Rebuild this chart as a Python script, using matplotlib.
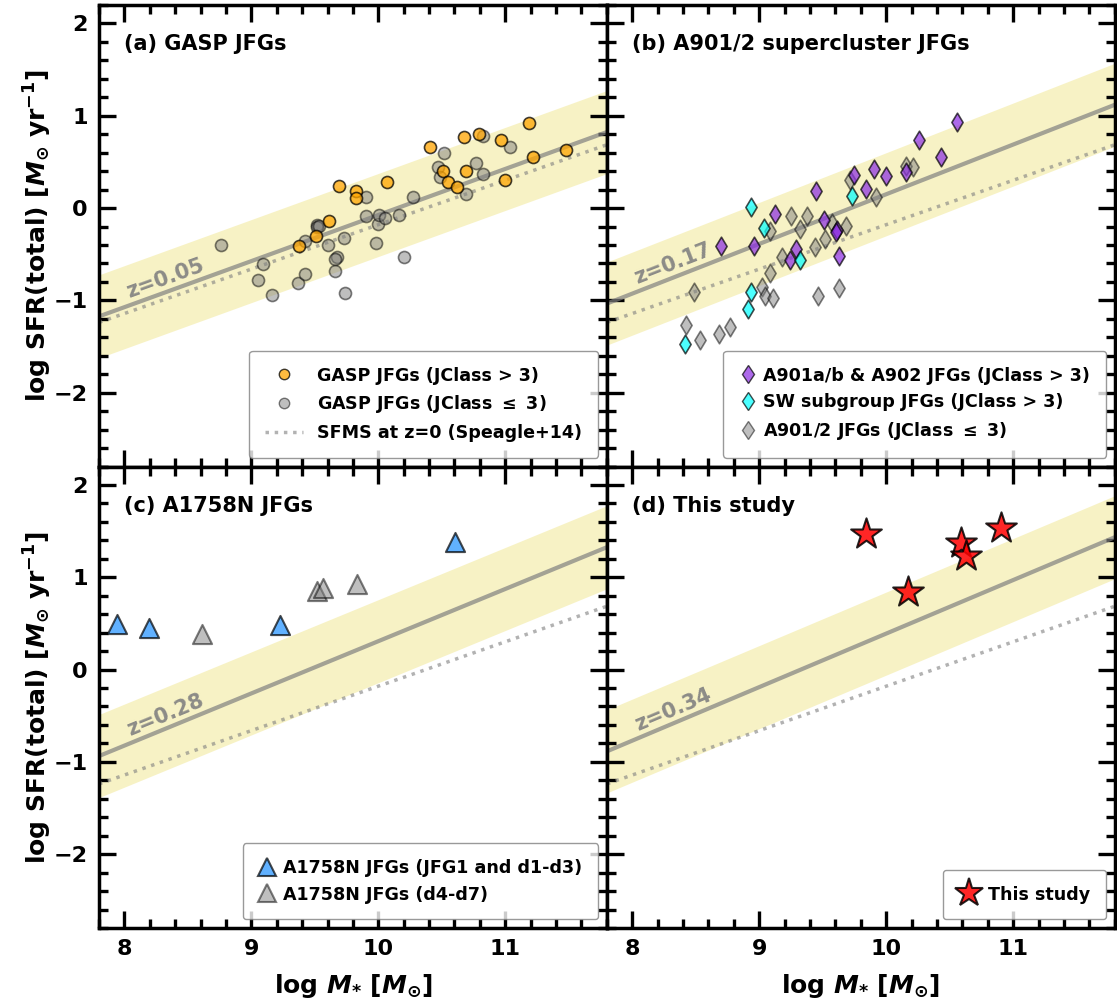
import numpy as np
import matplotlib
matplotlib.use("Agg")
import matplotlib.pyplot as plt
from matplotlib.ticker import MultipleLocator
from matplotlib.lines import Line2D

# GASP jellyfish galaxies (panel a)
gasp_hi_m = [9.375, 9.506, 9.611, 9.692, 9.824, 9.824, 10.065, 10.406, 10.506, 10.545,
             10.616, 10.677, 10.687, 10.795, 10.968, 10.997, 11.188, 11.217, 11.48]
gasp_hi_sfr = [-0.409, -0.307, -0.137, 0.240, 0.189, 0.106, 0.283, 0.657, 0.403, 0.287,
               0.233, 0.765, 0.403, 0.801, 0.743, 0.301, 0.925, 0.555, 0.627]
gasp_lo_m = [8.763, 9.091, 9.054, 9.162, 9.364, 9.424, 9.424, 9.519, 9.519, 9.53,
             9.603, 9.727, 9.672, 9.656, 9.656, 9.735, 9.905, 9.905, 9.994, 10.007,
             10.052, 9.984, 10.165, 10.275, 10.204, 10.467, 10.485, 10.517, 10.687, 10.766,
             10.826, 10.821, 11.039]
gasp_lo_sfr = [-0.401, -0.601, -0.782, -0.941, -0.807, -0.713, -0.362, -0.180, -0.21, -0.19,
               -0.401, -0.322, -0.528, -0.557, -0.680, -0.916, 0.124, -0.086, -0.173, -0.072,
               -0.108, -0.383, -0.079, 0.124, -0.528, 0.442, 0.334, 0.602, 0.150, 0.488,
               0.371, 0.779, 0.657]

# A901/2 supercluster (panel b)
a901_m = [8.698, 8.955, 9.128, 9.288, 9.241, 9.448, 9.509, 9.609, 9.603, 9.629,
          9.747, 9.837, 9.900, 9.999, 10.152, 10.259, 10.430, 10.561]
a901_sfr = [-0.409, -0.409, -0.061, -0.438, -0.561, 0.189, -0.126, -0.238, -0.264, -0.517,
            0.363, 0.204, 0.421, 0.345, 0.396, 0.743, 0.551, 0.928]
sw_m = [8.939, 9.036, 9.320, 9.729, 8.939, 8.908, 8.417]
sw_sfr = [0.008, -0.220, -0.564, 0.131, -0.909, -1.097, -1.471]
a901_lo_m = [8.485, 8.425, 8.535, 8.687, 8.766, 9.023, 9.049, 9.107, 9.086, 9.086,
             9.183, 9.249, 9.320, 9.377, 9.438, 9.519, 9.574, 9.687, 9.459, 9.629,
             9.716, 9.918, 10.157, 10.212]
a901_lo_sfr = [-0.909, -1.271, -1.434, -1.369, -1.286, -0.854, -0.952, -0.974, -0.699, -0.246,
               -0.535, -0.090, -0.227, -0.086, -0.427, -0.336, -0.162, -0.199, -0.952, -0.861,
               0.305, 0.124, 0.461, 0.450]

# A1758N (panel c)
a1758_hi_m = [7.942, 8.194, 9.225, 10.603]
a1758_hi_sfr = [0.49, 0.455, 0.48, 1.38]
a1758_lo_m = [8.609, 9.514, 9.561, 9.829]
a1758_lo_sfr = [0.39, 0.853, 0.889, 0.932]

# this study (panel d)
this_m = [9.837, 10.587, 10.632, 10.902, 10.173]
this_sfr = [1.471, 1.370, 1.230, 1.532, 0.842]

# star-forming main sequence lines (Speagle+14) per panel
panel_z = ["0.05", "0.17", "0.28", "0.34"]
ms_slope = [0.4994, 0.5384, 0.5657, 0.58]
ms_icpt = [-5.069, -5.234, -5.3495, -5.41]
z0_slope = 0.4812
z0_icpt = -4.992
ms_width = 0.45

titles = ["(a) GASP JFGs", "(b) A901/2 supercluster JFGs",
          "(c) A1758N JFGs", "(d) This study"]

XLIM = (7.8, 11.8)
YLIM = (-2.8, 2.2)

plt.rcParams["font.family"] = "DejaVu Sans"
plt.rcParams["font.weight"] = "bold"
plt.rcParams["axes.labelweight"] = "bold"
plt.rcParams["mathtext.fontset"] = "custom"
plt.rcParams["mathtext.rm"] = "DejaVu Sans:bold"
plt.rcParams["mathtext.bf"] = "DejaVu Sans:bold"
plt.rcParams["mathtext.it"] = "DejaVu Sans:italic:bold"

fig, axes = plt.subplots(2, 2, figsize=(11.17, 10.05), dpi=100, sharex=True, sharey=True)
fig.subplots_adjust(left=0.0886, right=0.998, top=0.995, bottom=0.0766, wspace=0, hspace=0)
axs = axes.ravel()

xx = np.array(XLIM)
for i, ax in enumerate(axs):
    ax.set_xlim(*XLIM)
    ax.set_ylim(*YLIM)
    ms = ms_slope[i] * xx + ms_icpt[i]
    ax.fill_between(xx, ms - ms_width, ms + ms_width, color="khaki", alpha=0.5, lw=0, zorder=1)
    ax.plot(xx, ms, color="gray", lw=3, alpha=0.7, zorder=2)
    ax.plot(xx, z0_slope * xx + z0_icpt, color="gray", lw=2.5, ls=":", alpha=0.6, zorder=2)

    # label along the main sequence line
    xt = 8.32
    yt = ms_slope[i] * xt + ms_icpt[i] + 0.15
    ang = np.degrees(np.arctan(ms_slope[i] * 92.0 / 127.0))
    ax.text(xt, yt, "z=" + panel_z[i], color="gray", fontsize=15, fontweight="bold",
            rotation=ang, rotation_mode="anchor", ha="center", va="center", alpha=0.9, zorder=3)

    ax.text(0.05, 0.915, titles[i], transform=ax.transAxes, fontsize=15,
            fontweight="bold", va="center", ha="left", zorder=6)

    ax.xaxis.set_major_locator(MultipleLocator(1))
    ax.xaxis.set_minor_locator(MultipleLocator(0.2))
    ax.yaxis.set_major_locator(MultipleLocator(1))
    ax.yaxis.set_minor_locator(MultipleLocator(0.2))
    ax.tick_params(which="both", direction="in", top=True, right=True, width=2.4,
                   labelsize=16, pad=8)
    ax.tick_params(which="major", length=12)
    ax.tick_params(which="minor", length=6.5)
    for sp in ax.spines.values():
        sp.set_linewidth(2.5)
    for lab in ax.get_xticklabels() + ax.get_yticklabels():
        lab.set_fontweight("bold")

leg_font = {"weight": "bold", "size": 12.6}

# (a)
ax = axs[0]
ax.scatter(gasp_hi_m, gasp_hi_sfr, s=75, color="orange", edgecolor="k", lw=1.2, alpha=0.75, zorder=5)
ax.scatter(gasp_lo_m, gasp_lo_sfr, s=75, color="gray", edgecolor="k", lw=1.2, alpha=0.5, zorder=4)
h = [Line2D([], [], ls="none", marker="o", ms=7.5, mfc="orange", mec="k", alpha=0.75),
     Line2D([], [], ls="none", marker="o", ms=7.5, mfc="gray", mec="k", alpha=0.5),
     Line2D([], [], color="gray", lw=2.5, ls=":", alpha=0.6)]
ax.legend(h, ["GASP JFGs (JClass > 3)", "GASP JFGs (JClass $\\leq$ 3)",
              "SFMS at z=0 (Speagle+14)"], loc="lower right", prop=leg_font,
          handlelength=2.2, borderpad=0.9, edgecolor="gray")

# (b)
ax = axs[1]
ax.scatter(a901_lo_m, a901_lo_sfr, s=90, marker="d", color="gray", edgecolor="k", lw=1.2, alpha=0.5, zorder=4)
ax.scatter(a901_m, a901_sfr, s=90, marker="d", color="blueviolet", edgecolor="k", lw=1.2, alpha=0.7, zorder=5)
ax.scatter(sw_m, sw_sfr, s=90, marker="d", color="cyan", edgecolor="k", lw=1.2, alpha=0.7, zorder=5)
h = [Line2D([], [], ls="none", marker="d", ms=9.5, mfc="blueviolet", mec="k", alpha=0.7),
     Line2D([], [], ls="none", marker="d", ms=9.5, mfc="cyan", mec="k", alpha=0.7),
     Line2D([], [], ls="none", marker="d", ms=9.5, mfc="gray", mec="k", alpha=0.5)]
ax.legend(h, ["A901a/b & A902 JFGs (JClass > 3)", "SW subgroup JFGs (JClass > 3)",
              "A901/2 JFGs (JClass $\\leq$ 3)"], loc="lower right", prop=leg_font,
          handlelength=1.0, handletextpad=0.4, borderpad=0.9, edgecolor="gray")

# (c)
ax = axs[2]
ax.scatter(a1758_hi_m, a1758_hi_sfr, s=190, marker="^", color="dodgerblue", edgecolor="k", lw=1.5, alpha=0.7, zorder=5)
ax.scatter(a1758_lo_m, a1758_lo_sfr, s=190, marker="^", color="gray", edgecolor="k", lw=1.5, alpha=0.5, zorder=4)
h = [Line2D([], [], ls="none", marker="^", ms=13, mfc="dodgerblue", mec="k", mew=1.5, alpha=0.7),
     Line2D([], [], ls="none", marker="^", ms=13, mfc="gray", mec="k", mew=1.5, alpha=0.5)]
ax.legend(h, ["A1758N JFGs (JFG1 and d1-d3)", "A1758N JFGs (d4-d7)"], loc="lower right",
          prop=leg_font, handlelength=1.0, handletextpad=0.4, borderpad=0.9, edgecolor="gray")

# (d)
ax = axs[3]
ax.scatter(this_m, this_sfr, s=540, marker="*", color="red", edgecolor="k", lw=1.5, alpha=0.85, zorder=5)
h = [Line2D([], [], ls="none", marker="*", ms=21, mfc="red", mec="k", mew=1.5, alpha=0.85)]
ax.legend(h, ["This study"], loc="lower right", prop=leg_font,
          handlelength=1.2, handletextpad=0.5, borderpad=0.9, edgecolor="gray")

ylab = "log SFR(total) [$M_{\\odot}$ yr$^{-1}$]"
xlab = "log $M_{*}$ [$M_{\\odot}$]"
axs[0].set_ylabel(ylab, fontsize=18, fontweight="bold", labelpad=0)
axs[2].set_ylabel(ylab, fontsize=18, fontweight="bold", labelpad=0)
axs[2].set_xlabel(xlab, fontsize=18, fontweight="bold", labelpad=9)
axs[3].set_xlabel(xlab, fontsize=18, fontweight="bold", labelpad=9)

fig.savefig("out.png", dpi=100)
